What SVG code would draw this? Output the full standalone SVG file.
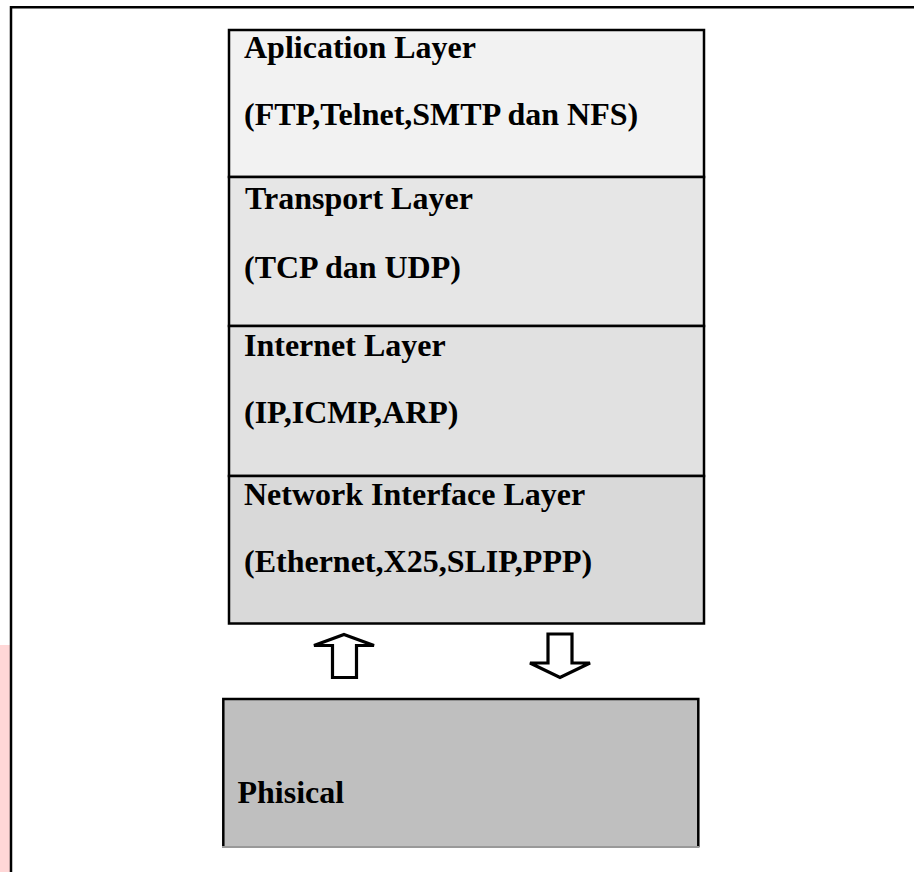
<svg xmlns="http://www.w3.org/2000/svg" width="914" height="872" viewBox="0 0 914 872">
<style>
  .lbl { font-family: "Liberation Serif", "Times New Roman", serif; font-weight: bold; font-size: 32px; fill: #000; }
  .box { stroke: #000; stroke-width: 2.5; }
  .arr { fill: #fff; stroke: #000; stroke-width: 3.2; stroke-linejoin: miter; }
</style>
<rect x="0" y="0" width="914" height="872" fill="#fff"/>
<rect x="0" y="645" width="10" height="227" fill="#ffd7d7"/>
<path d="M11 872 V7.3 H914" fill="none" stroke="#000" stroke-width="2.5"/>

<g id="application">
  <rect class="box" x="229" y="30" width="475" height="147" fill="#f2f2f2"/>
  <text class="lbl" x="244" y="58">Aplication Layer</text>
  <text class="lbl" x="244" y="125">(FTP,Telnet,SMTP dan NFS)</text>
</g>
<g id="transport">
  <rect class="box" x="229" y="177" width="475" height="149" fill="#e6e6e6"/>
  <text class="lbl" x="245" y="209">Transport Layer</text>
  <text class="lbl" x="244" y="278">(TCP dan UDP)</text>
</g>
<g id="internet">
  <rect class="box" x="229" y="326" width="475" height="150" fill="#e1e1e1"/>
  <text class="lbl" x="244" y="356">Internet Layer</text>
  <text class="lbl" x="244" y="423">(IP,ICMP,ARP)</text>
</g>
<g id="network">
  <rect class="box" x="229" y="476" width="475" height="147.5" fill="#d9d9d9"/>
  <text class="lbl" x="244" y="505">Network Interface Layer</text>
  <text class="lbl" x="244" y="572">(Ethernet,X25,SLIP,PPP)</text>
</g>

<g id="connectors">
  <polygon class="arr" points="344,634.5 374,645.5 356.5,645.5 356.5,677.5 332.5,677.5 332.5,645.5 314,645.5"/>
  <polygon class="arr" points="548,634 572,634 572,663 590,663 560,677.5 530,663 548,663"/>
</g>

<g id="physical">
  <rect x="223.3" y="699" width="475" height="148" fill="#bfbfbf"/>
  <path d="M223.3 847 V699 H698.3 V847" fill="none" stroke="#000" stroke-width="2.5"/>
  <line x1="222" y1="847" x2="699.5" y2="847" stroke="#999" stroke-width="2"/>
  <text class="lbl" x="237.5" y="803">Phisical</text>
</g>
</svg>
